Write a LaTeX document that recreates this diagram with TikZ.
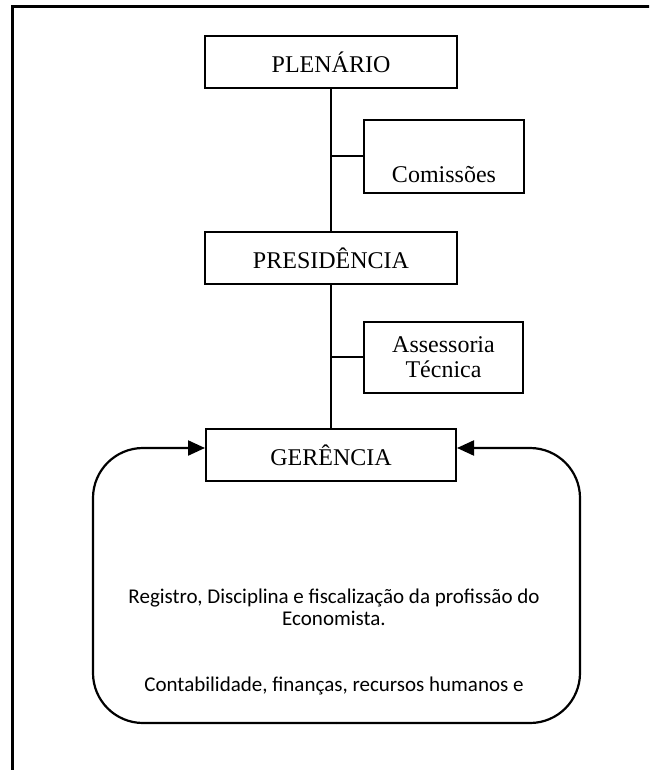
\documentclass[tikz,border=0pt]{standalone}
\usepackage{fontspec}
\setmainfont{Liberation Serif}
\newfontfamily\calibri{Carlito}
\usetikzlibrary{arrows.meta}

\tikzset{
  box/.style={draw, line width=2pt, fill=white, font=\fontsize{24}{25}\selectfont, align=center, inner sep=0pt},
  link/.style={line width=2pt},
  loopline/.style={line width=2.2pt, rounded corners=50pt, -{Triangle[length=17pt,width=15pt]}},
}

\begin{document}
\begin{tikzpicture}[x=1pt,y=-1pt]
			\useasboundingbox (0,0) rectangle (649,770);
			\clip (0,0) rectangle (649,770);
			\draw[line width=3pt] (12,800) -- (12,7) -- (680,7);
			% boxes
			\node[box, minimum width=252pt, minimum height=52pt] (plenario) at (331,62) {PLEN\'ARIO};
			\node[box, minimum width=160pt, minimum height=73pt, label={[yshift=-18pt, font=\fontsize{24}{25}\selectfont]center:Comiss\~oes}] (comissoes) at (444,156.5) {};
			\node[box, minimum width=252pt, minimum height=52pt] (presidencia) at (331,258) {PRESID\^ENCIA};
			\node[box, minimum width=159pt, minimum height=71pt] (assessoria) at (443.5,357) {Assessoria\\T\'ecnica};
			\node[box, minimum width=250pt, minimum height=52pt] (gerencia) at (331,455) {GER\^ENCIA};
			% trunk
			\draw[link] (plenario) -- (presidencia);
			\draw[link] (presidencia) -- (gerencia);
			\draw[link] (comissoes.west) -- (comissoes.west -| plenario.south);
			\draw[link] (assessoria.west) -- (assessoria.west -| presidencia.south);
			% loop round the gerencia
			\coordinate (bot) at (336,723);
			\coordinate (bl) at (93,723);
			\coordinate (tl) at (93,448);
			\coordinate (br) at (580,723);
			\coordinate (tr) at (580,448);
			\draw[loopline] (bot) -- (bl) -- (tl) -- (gerencia.west |- tl);
			\draw[loopline] (bot) -- (br) -- (tr) -- (gerencia.east |- tr);
			\node[font=\calibri\fontsize{21}{22}\selectfont, align=center, anchor=north] (tarefas) at (334,585)
				{Registro, Disciplina e fiscaliza\c{c}\~ao da profiss\~ao do\\Economista.\\[44pt]Contabilidade, finan\c{c}as, recursos humanos e};
		\end{tikzpicture}
\end{document}
